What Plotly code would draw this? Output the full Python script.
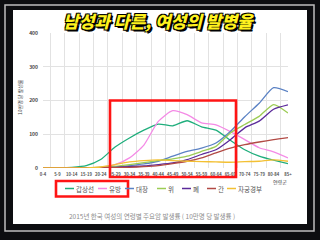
import plotly.graph_objects as go

# ---- data ----
age_groups = ["0-4", "5-9", "10-14", "15-19", "20-24", "25-29", "30-34", "35-39",
              "40-44", "45-49", "50-54", "55-59", "60-64", "65-69", "70-74",
              "75-79", "80-84", "85+"]
series_names = ["갑상선", "유방", "대장", "위", "폐", "간", "자궁경부"]
thyroid = [0, 0.5, 2, 7, 25, 62, 89, 112, 130, 125, 140, 122, 112, 82, 54, 35, 23, 13]
breast = [0, 0, 0, 0.3, 2, 10, 30, 68, 138, 170, 158, 134, 128, 108, 84, 60, 48, 30]
colorectal = [0, 0, 0.2, 0.5, 1.5, 3.5, 7, 12, 20, 35, 49, 59, 74, 108, 152, 192, 238, 226]
stomach = [0, 0, 0.2, 0.5, 2, 5, 10, 16, 22, 27, 35, 49, 64, 104, 129, 153, 188, 163]
lung = [0, 0, 0.2, 0.5, 1, 2, 4, 6, 10, 15, 25, 40, 54, 84, 119, 139, 174, 187]
liver = [0, 0.3, 0.3, 0.5, 0.7, 1, 2, 4, 7, 13, 20, 30, 45, 59, 69, 77, 84, 90]
cervical = [0, 0, 0, 0.3, 3, 10, 18, 22, 24, 22, 20, 19, 18, 17, 19, 20, 24, 20]
y_ticks = [0, 100, 200, 300, 400]

series_values = [thyroid, breast, colorectal, stomach, lung, liver, cervical]
colors = ["#1fae7c", "#f48ae6", "#5b82c4", "#9ccc55", "#5b2a9a", "#b24a45", "#f3c033"]

# ---- geometry helpers (pixel -> paper) ----
L, R, T, B = 43, 288, 33, 168
def px(x):
    return (x - L) / (R - L)
def py(y):
    return (B - y) / (B - T)

fig = go.Figure()
for name, vals, c in zip(series_names, series_values, colors):
    fig.add_trace(go.Scatter(x=age_groups, y=vals, name=name, mode="lines",
                             line=dict(color=c, width=1.3, shape="spline", smoothing=0.6),
                             showlegend=False))

font = "Noto Sans CJK KR"
shapes = [
    # outer frame line
    dict(type="rect", xref="paper", yref="paper", x0=px(5), x1=px(314), y0=py(231), y1=py(5),
         line=dict(color="#bdbdbd", width=1.5), fillcolor="rgba(0,0,0,0)", layer="below"),
    # white panel
    dict(type="rect", xref="paper", yref="paper", x0=px(13), x1=px(307), y0=py(224), y1=py(10),
         line=dict(width=0), fillcolor="white", layer="below"),
    # red highlight boxes
    dict(type="rect", xref="paper", yref="paper", x0=px(110), x1=px(236), y0=py(177), y1=py(100.5),
         line=dict(color="#ff1414", width=2.6), fillcolor="rgba(0,0,0,0)", layer="above"),
    dict(type="rect", xref="paper", yref="paper", x0=px(56), x1=px(128), y0=py(196.5), y1=py(181),
         line=dict(color="#ff1414", width=2.6), fillcolor="rgba(0,0,0,0)", layer="above"),
]

annotations = [
    dict(text="남성과 다른, 여성의 발병율", xref="paper", yref="paper", x=px(159), y=py(20.5),
         xanchor="center", yanchor="middle", showarrow=False,
         font=dict(family=font, size=17, color="#fff21e", weight=900, style="italic",
                   shadow="-1px -1px 0 #000, 1px -1px 0 #000, -1px 1px 0 #000, 1px 1px 0 #000, 2px 2px 0 #000")),
    dict(text="10만명 당 발생률", xref="paper", yref="paper", x=px(20), y=py(97),
         xanchor="center", yanchor="middle", showarrow=False, textangle=-90,
         font=dict(family=font, size=5, color="#444")),
    dict(text="연령군", xref="paper", yref="paper", x=px(280), y=py(181),
         xanchor="center", yanchor="middle", showarrow=False,
         font=dict(family=font, size=5, color="#444")),
    dict(text="2015년 한국 여성의 연령별 주요암 발생률 ( 10만명 당 발생률 )", xref="paper", yref="paper",
         x=px(152), y=py(215.5), xanchor="center", yanchor="middle", showarrow=False,
         font=dict(family=font, size=6.5, color="#8c8c8c")),
]

legend_x = [65, 98, 125, 157, 182, 207, 227]
for name, c, lx in zip(series_names, colors, legend_x):
    shapes.append(dict(type="line", xref="paper", yref="paper", x0=px(lx), x1=px(lx + 9),
                       y0=py(188.5), y1=py(188.5), line=dict(color=c, width=1.5)))
    annotations.append(dict(text=name, xref="paper", yref="paper", x=px(lx + 9), y=py(188.5),
                            xanchor="left", yanchor="middle", showarrow=False,
                            font=dict(family=font, size=6.5, color="#555")))

fig.update_layout(
    width=320, height=240, autosize=False,
    margin=dict(l=L, r=320 - R, t=T, b=240 - B, pad=0),
    paper_bgcolor="#0c0d10", plot_bgcolor="white",
    shapes=shapes, annotations=annotations,
    xaxis=dict(type="category", tickson="boundaries", showgrid=True, gridcolor="#e2e2e2",
               gridwidth=1, ticks="", showline=False, zeroline=False,
               tickfont=dict(family=font, size=4.2, color="#555", weight="bold"),
               tickangle=0, fixedrange=True, ticklabelstandoff=3),
    yaxis=dict(range=[0, 400], tickvals=y_ticks, showgrid=True, gridcolor="#e2e2e2",
               gridwidth=1, ticks="", zeroline=False, showline=False, ticklabelstandoff=4,
               tickfont=dict(family=font, size=5, color="#444", weight="bold")),
)

fig.write_html("out.html")
